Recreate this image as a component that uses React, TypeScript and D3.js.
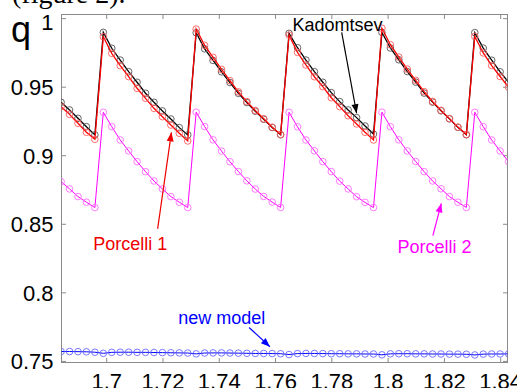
import * as d3 from "d3";

// sampling grid shared by all four runs
const TIME = [
  1.6838, 1.6868, 1.6898, 1.6928, 1.6958, 1.6988, 1.7018, 1.7048, 1.7078, 1.7108,
  1.7138, 1.7168, 1.7198, 1.7228, 1.7258, 1.7288, 1.7318, 1.7348, 1.7378, 1.7408,
  1.7438, 1.7468, 1.7498, 1.7528, 1.7558, 1.7588, 1.7618, 1.7648, 1.7678, 1.7708,
  1.7738, 1.7768, 1.7798, 1.7828, 1.7858, 1.7888, 1.7918, 1.7948, 1.7978, 1.8008,
  1.8038, 1.8068, 1.8098, 1.8128, 1.8158, 1.8188, 1.8218, 1.8248, 1.8278, 1.8308,
  1.8338, 1.8368, 1.8398, 1.8428,
];

const KADOMTSEV = [
  0.939, 0.9334, 0.9273, 0.9212, 0.9152,
  0.99, 0.9784, 0.9698, 0.9613, 0.9536, 0.9456, 0.939, 0.9327, 0.9268, 0.9205, 0.9152,
  0.9897, 0.978, 0.9695, 0.9612, 0.9534, 0.9455, 0.9388, 0.9325, 0.9266, 0.9206, 0.9153,
  0.9893, 0.9788, 0.9698, 0.9613, 0.9536, 0.946, 0.9395, 0.9334, 0.9278, 0.9217, 0.9158,
  0.99, 0.9786, 0.97, 0.9614, 0.9537, 0.9457, 0.9391, 0.9328, 0.9269, 0.9207, 0.9153,
  0.9898, 0.9785, 0.9697, 0.9612, 0.9536,
];

const PORCELLI_1 = [
  0.9358, 0.9302, 0.9237, 0.9171, 0.912,
  0.9868, 0.9747, 0.9657, 0.9577, 0.9492, 0.9419, 0.9346, 0.9285, 0.9224, 0.9164, 0.9108,
  0.9924, 0.9805, 0.9718, 0.963, 0.9548, 0.9466, 0.9395, 0.933, 0.927, 0.9208, 0.9155,
  0.988, 0.9754, 0.9662, 0.9576, 0.9504, 0.9423, 0.9358, 0.9292, 0.9232, 0.9171, 0.9115,
  0.993, 0.981, 0.972, 0.9632, 0.955, 0.9468, 0.9396, 0.9331, 0.9271, 0.9209, 0.9155,
  0.987, 0.975, 0.9658, 0.9578, 0.95,
];

const PORCELLI_2 = [
  0.8811, 0.8758, 0.8702, 0.8661, 0.8622,
  0.9317, 0.9212, 0.9115, 0.9035, 0.8957, 0.8884, 0.8816, 0.8758, 0.8702, 0.8661, 0.8622,
  0.9318, 0.9213, 0.9116, 0.9034, 0.8956, 0.8885, 0.8817, 0.8757, 0.8703, 0.8662, 0.8623,
  0.9317, 0.9211, 0.9115, 0.9036, 0.8957, 0.8884, 0.8815, 0.8758, 0.8701, 0.866, 0.8622,
  0.9318, 0.9212, 0.9116, 0.9035, 0.8958, 0.8884, 0.8816, 0.8759, 0.8702, 0.8661, 0.8623,
  0.9317, 0.9212, 0.9115, 0.9035, 0.8957,
];

const NEW_MODEL = [
  0.7572, 0.7572, 0.7571, 0.757, 0.7567,
  0.7559, 0.7566, 0.7567, 0.7567, 0.7566, 0.7566, 0.7565, 0.7564, 0.7563, 0.7562, 0.7561,
  0.7555, 0.7561, 0.7562, 0.7562, 0.7561, 0.756, 0.7559, 0.7558, 0.7558, 0.7557, 0.7556,
  0.755, 0.7557, 0.7558, 0.7558, 0.7557, 0.7556, 0.7556, 0.7555, 0.7555, 0.7554, 0.7554,
  0.7548, 0.7555, 0.7556, 0.7556, 0.7555, 0.7555, 0.7554, 0.7554, 0.7553, 0.7553, 0.7552,
  0.7547, 0.7553, 0.7554, 0.7554, 0.7555,
];

const X_TICKS = [1.7, 1.72, 1.74, 1.76, 1.78, 1.8, 1.82, 1.84];
const Y_TICKS = [0.75, 0.8, 0.85, 0.9, 0.95, 1];

const SERIES = [
  { name: "Kadomtsev", values: KADOMTSEV, line: "#000000", marker: "#555555", width: 1.3 },
  { name: "Porcelli 1", values: PORCELLI_1, line: "#ff0000", marker: "#ff5a5a", width: 1.3 },
  { name: "Porcelli 2", values: PORCELLI_2, line: "#ff00ff", marker: "#ff6cff", width: 1 },
  { name: "new model", values: NEW_MODEL, line: "#0000ff", marker: "#6b6bff", width: 1 },
];

// annotation text + arrow (from -> tip), in data units
const NOTES = [
  { text: "Kadomtsev", color: "#000000", at: [1.766, 0.991], from: [1.7835, 0.99], tip: [1.7888, 0.931] },
  { text: "Porcelli 1", color: "#ee0000", at: [1.6952, 0.8313], from: [1.7181, 0.8466], tip: [1.723, 0.9171] },
  { text: "Porcelli 2", color: "#ff00ff", at: [1.8033, 0.8293], from: [1.8159, 0.8418], tip: [1.8189, 0.8653] },
  { text: "new model", color: "#0000ff", at: [1.7254, 0.7773], from: [1.7506, 0.7747], tip: [1.758, 0.7607] },
];

const W = 517;
const H = 388;
const FONT = "'Liberation Sans', Arial, Helvetica, sans-serif";

export default function App() {
  const left = 61.5, right = 507.5, top = 14.5, bottom = 362.5;

  const x = d3.scaleLinear().domain([1.68394, 1.84249]).range([61.5, 507.7]);
  const y = d3.scaleLinear().domain([0.74883, 1.00339]).range([363, 14]);

  const line = (vals: number[]) =>
    d3.line<number>()
      .x((_, i) => x(TIME[i]))
      .y((d) => y(d))(vals) as string;

  const arrowHead = (fx: number, fy: number, tx: number, ty: number) => {
    const a = Math.atan2(ty - fy, tx - fx);
    const len = 9, hw = 3.5;
    const bx = tx - len * Math.cos(a), by = ty - len * Math.sin(a);
    const nx = -Math.sin(a) * hw, ny = Math.cos(a) * hw;
    return `M${tx},${ty}L${bx + nx},${by + ny}L${bx - nx},${by - ny}Z`;
  };

  const tk = 4.5;

  return (
    <svg width={W} height={H} style={{ position: "absolute", left: 0, top: 0, background: "#fff" }}>
      <rect width={W} height={H} fill="#fff" />
      {/* caption cut off at the top of the crop */}
      <text x={12} y={3} fontFamily="'Liberation Serif', 'Times New Roman', serif" fontSize={28}>
        (figure 2).
      </text>

      <defs>
        <clipPath id="plot">
          <rect x={left} y={top} width={right - left} height={bottom - top} />
        </clipPath>
      </defs>

      {/* axes box + ticks */}
      <rect x={left} y={top} width={right - left} height={bottom - top} fill="none" stroke="#8a8a8a" strokeWidth={1} />
      {X_TICKS.map((t) => (
        <g key={"xt" + t} stroke="#8a8a8a">
          <line x1={x(t)} x2={x(t)} y1={bottom} y2={bottom - tk} />
          <line x1={x(t)} x2={x(t)} y1={top} y2={top + tk} />
        </g>
      ))}
      {Y_TICKS.map((v) => (
        <g key={"yt" + v} stroke="#8a8a8a">
          <line x1={left} x2={left + tk} y1={y(v)} y2={y(v)} />
          <line x1={right} x2={right - tk} y1={y(v)} y2={y(v)} />
        </g>
      ))}

      {/* tick labels */}
      {X_TICKS.map((t) => (
        <text key={"xl" + t} x={x(t)} y={389} textAnchor="middle" fontFamily={FONT} fontSize={22}>
          {d3.format("")(t)}
        </text>
      ))}
      {Y_TICKS.map((v) => (
        <text key={"yl" + v} x={53.5} y={Math.max(y(v), 22)} dy="0.36em" textAnchor="end" fontFamily={FONT} fontSize={22}>
          {d3.format("")(v)}
        </text>
      ))}
      <text x={11} y={42} fontFamily={FONT} fontSize={36}>q</text>

      {/* series */}
      <g clipPath="url(#plot)">
        {SERIES.map((s) => (
          <g key={s.name}>
            <path d={line(s.values)} fill="none" stroke={s.line} strokeWidth={s.width} />
            {s.values.map((v, i) => (
              <circle key={i} cx={x(TIME[i])} cy={y(v)} r={3.3} fill="none" stroke={s.marker} strokeWidth={0.9} />
            ))}
          </g>
        ))}
      </g>

      {/* annotations */}
      {NOTES.map((n) => {
        const fx = x(n.from[0]), fy = y(n.from[1]);
        const tx = x(n.tip[0]), ty = y(n.tip[1]);
        return (
          <g key={n.text}>
            <text x={x(n.at[0])} y={y(n.at[1])} fill={n.color} fontFamily={FONT} fontSize={18}>
              {n.text}
            </text>
            <line x1={fx} y1={fy} x2={tx} y2={ty} stroke={n.color} strokeWidth={1.2} />
            <path d={arrowHead(fx, fy, tx, ty)} fill={n.color} />
          </g>
        );
      })}
    </svg>
  );
}
